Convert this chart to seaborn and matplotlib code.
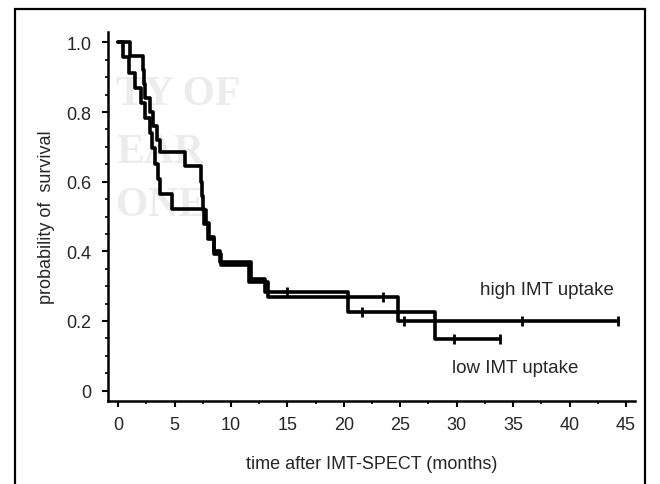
import numpy as np
import matplotlib
matplotlib.use("Agg")
import matplotlib.pyplot as plt
from matplotlib.patches import Rectangle
from matplotlib.ticker import MultipleLocator, FixedLocator
import seaborn as sns

# === Kaplan-Meier steps ===
# low IMT uptake
low_times = [0, 1.05, 2.2, 2.28, 2.36, 2.8, 3.05, 3.4, 3.7, 5.9, 7.35, 7.45, 7.55, 7.75, 8.05, 8.45, 9.0, 11.8, 13.0, 20.4, 28.1, 33.8]
low_surv = [1.0, 0.96, 0.92, 0.88, 0.84, 0.80, 0.76, 0.72, 0.685, 0.645, 0.60, 0.56, 0.52, 0.48, 0.44, 0.40, 0.37, 0.32, 0.284, 0.226, 0.149, 0.149]
low_cens_t = [15.0, 21.6, 29.8, 33.8]
low_cens_s = [0.284, 0.226, 0.149, 0.149]

# high IMT uptake
high_times = [0, 0.45, 0.95, 1.5, 2.0, 2.4, 2.8, 3.0, 3.3, 3.5, 3.75, 4.8, 7.6, 8.0, 8.5, 9.1, 11.6, 13.3, 24.8, 44.3]
high_surv = [1.0, 0.957, 0.913, 0.87, 0.826, 0.783, 0.739, 0.696, 0.652, 0.609, 0.565, 0.522, 0.478, 0.435, 0.391, 0.362, 0.312, 0.27, 0.20, 0.20]
high_cens_t = [23.5, 25.3, 35.8, 44.3]
high_cens_s = [0.27, 0.20, 0.20, 0.20]

x_ticks = [0, 5, 10, 15, 20, 25, 30, 35, 40, 45]
y_ticks = [0, 0.2, 0.4, 0.6, 0.8, 1.0]
y_ticklabels = ["0", "0.2", "0.4", "0.6", "0.8", "1.0"]

# === Style ===
sns.set_style("ticks")
plt.rcParams["font.family"] = ["Liberation Sans", "DejaVu Sans"]

fig = plt.figure(figsize=(6.6, 4.85), dpi=100)
ax = fig.add_axes([108 / 660, 1 - 402 / 485, (635 - 108) / 660, (402 - 33) / 485])
ax.set_zorder(2)
ax.patch.set_alpha(0)

# faint watermark from the scanned page (behind the axes)
for txt, yy in [("TY OF", 0.805), ("EAR", 0.685), ("ONE", 0.575)]:
    fig.text(116 / 660, yy, txt, family="Liberation Serif", fontsize=30, weight="bold",
             color="#ececec", zorder=1, ha="left", va="center")

for t, s in [(low_times, low_surv), (high_times, high_surv)]:
    sns.lineplot(x=t, y=s, ax=ax, drawstyle="steps-post", estimator=None,
                 sort=False, color="black", linewidth=2.6)

for t, s in [(low_cens_t, low_cens_s), (high_cens_t, high_cens_s)]:
    sns.scatterplot(x=t, y=s, ax=ax, marker="|", s=45, color="black",
                    linewidth=2.0, zorder=5)

ax.text(43.9, 0.29, "high IMT uptake", ha="right", va="center", fontsize=13.5)
ax.text(40.8, 0.066, "low IMT uptake", ha="right", va="center", fontsize=13.5)

ax.set_xlim(-0.9, 45.8)
ax.set_ylim(-0.03, 1.03)
ax.xaxis.set_major_locator(FixedLocator(x_ticks))
ax.xaxis.set_minor_locator(MultipleLocator(2.5))
ax.set_yticks(y_ticks)
ax.set_yticklabels(y_ticklabels)
ax.yaxis.set_minor_locator(MultipleLocator(0.05))

ax.tick_params(axis="both", which="major", length=4, width=1.5, labelsize=13, color="black")
ax.tick_params(axis="y", which="major", pad=8)
ax.tick_params(axis="x", which="major", pad=7)
ax.tick_params(axis="both", which="minor", length=2.5, width=1.2, color="black")

ax.set_xlabel("time after IMT-SPECT (months)", fontsize=13, labelpad=16)
ax.set_ylabel("probability of  survival", fontsize=13, labelpad=8)

for side in ["top", "right"]:
    ax.spines[side].set_visible(False)
for side in ["left", "bottom"]:
    ax.spines[side].set_linewidth(1.8)
    ax.spines[side].set_color("black")

# outer frame around the figure
fig.patches.append(Rectangle((15 / 660, -0.02), (645 - 15) / 660, 1 - 10 / 485 + 0.02,
                             transform=fig.transFigure, fill=False,
                             edgecolor="black", linewidth=1.6))

fig.savefig("out.png", dpi=100)
